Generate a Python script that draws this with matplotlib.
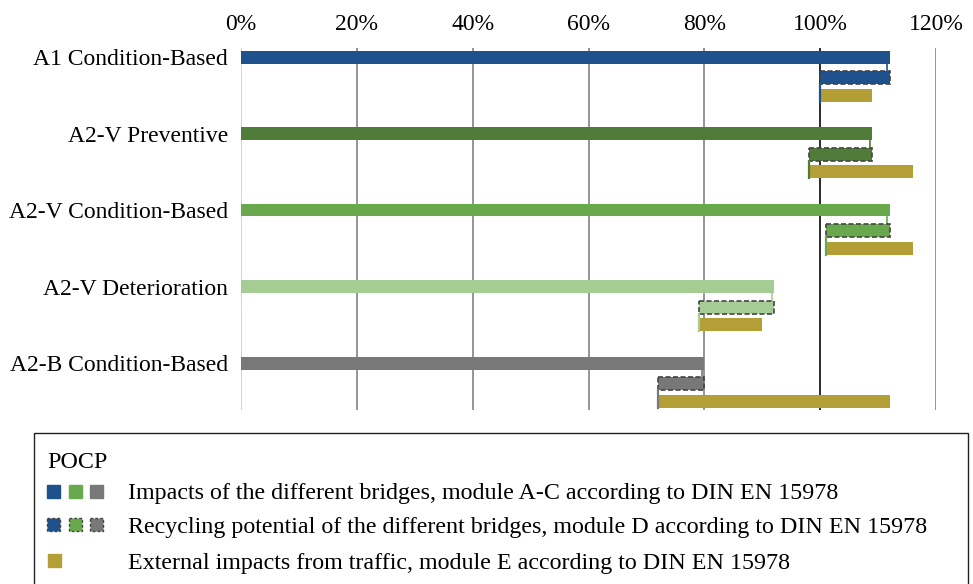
import matplotlib
matplotlib.use("Agg")
import matplotlib.pyplot as plt
from matplotlib.patches import Rectangle
import numpy as np

plt.rcParams['font.family'] = ['Liberation Serif', 'DejaVu Serif']

categories = ["A1 Condition-Based", "A2-V Preventive", "A2-V Condition-Based",
              "A2-V Deterioration", "A2-B Condition-Based"]
impacts_AC = [112, 109, 112, 92, 80]          # module A-C (%)
recycling_D = [-12, -11, -11, -13, -8]        # module D (%)
traffic_E = [9, 18, 15, 11, 40]               # module E (%)
colors = ["#1F528C", "#507C3A", "#6AA84D", "#A5CD93", "#787878"]
gold = "#B49F36"
xticks = [0, 20, 40, 60, 80, 100, 120]
legend_title = "POCP"
legend_labels = ["Impacts of the different bridges, module A-C according to DIN EN 15978",
                 "Recycling potential of the different bridges, module D according to DIN EN 15978",
                 "External impacts from traffic, module E according to DIN EN 15978"]

W, H = 973, 584
FS = 17
FSL = 17.3
fig = plt.figure(figsize=(W / 100, H / 100), dpi=100)
ax = fig.add_axes([241 / W, 1 - 410 / H, (936 - 241) / W, (410 - 48) / H])

row = 76.5
offD = 20.7 / row
offE = 38.2 / row
bh = 13 / row

for i, (cat, ac, d, e, c) in enumerate(zip(categories, impacts_AC, recycling_D, traffic_E, colors)):
    net = ac + d
    ax.barh(i, ac, height=bh, color=c, zorder=3)
    ax.barh(i + offD, -d, left=net, height=bh, color=c, edgecolor="#444444",
            linestyle=(0, (3, 1.5)), linewidth=1.2, zorder=3)
    ax.barh(i + offE, e, left=net, height=bh, color=gold, zorder=3)
    # connector lines
    ax.plot([ac - 0.4, ac - 0.4], [i + bh / 2, i + offD - bh / 2], color=c, lw=1.2, zorder=2)
    ax.plot([net, net], [i + offD + bh / 2, i + offE + bh / 2], color=c, lw=1.6, zorder=4)

ax.set_xlim(0, 120)
ax.set_ylim(4 + 47 / row, -9 / row)
ax.set_yticks(range(len(categories)))
ax.set_yticklabels(categories, fontsize=FS)
ax.set_xticks(xticks)
ax.set_xticklabels([f"{t}%" for t in xticks], fontsize=FS)
ax.xaxis.tick_top()
ax.tick_params(axis='x', length=0, pad=9.5)
ax.tick_params(axis='y', length=0, pad=9.5)
for s in ax.spines.values():
    s.set_visible(False)
for t in xticks:
    if t == 0:
        col = "#CFCFCF"
    elif t == 100:
        col = "#1A1A1A"
    else:
        col = "#8C8C8C"
    ax.axvline(t, color=col, lw=1.3, zorder=1)

# legend box (pixel-coordinate overlay axes)
lax = fig.add_axes([0, 0, 1, 1], zorder=5)
lax.set_xlim(0, W)
lax.set_ylim(H, 0)
lax.axis("off")
lax.add_patch(Rectangle((33.5, 432.5), 934, 160, fill=False, edgecolor="#222222", lw=1.0))
lax.text(47, 462, legend_title, fontsize=FSL, va="center", ha="left")
sw = 13
rows_y = [491, 524, 560]
series_cols = [colors[0], colors[2], colors[4]]
xs = [47, 69, 90]
for x, c in zip(xs, series_cols):
    lax.add_patch(Rectangle((x, rows_y[0] - sw / 2), sw, sw, color=c))
    lax.add_patch(Rectangle((x, rows_y[1] - sw / 2), sw, sw, facecolor=c, edgecolor="#444444",
                            linestyle=(0, (2, 1.5)), lw=1.0))
lax.add_patch(Rectangle((48, rows_y[2] - sw / 2), sw, sw, color=gold))
for y, lab in zip(rows_y, legend_labels):
    lax.text(128, y + 3, lab, fontsize=FSL, va="center", ha="left")

fig.savefig("out.png", dpi=100)
